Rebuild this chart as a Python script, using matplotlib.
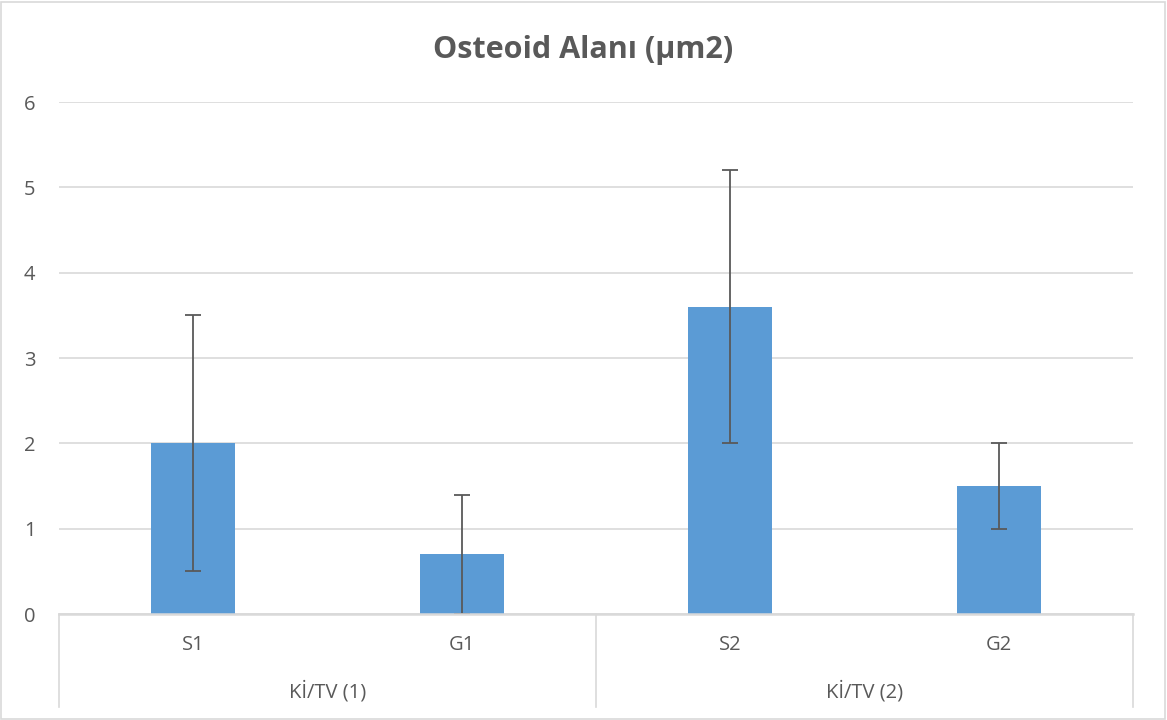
import matplotlib
matplotlib.use("Agg")
import matplotlib.pyplot as plt
from matplotlib.patches import Rectangle

categories = ["S1", "G1", "S2", "G2"]
groups = ["Kİ/TV (1)", "Kİ/TV (2)"]
group_sizes = [2, 2]
values = [2.0, 0.7, 3.6, 1.5]
errors = [1.5, 0.7, 1.6, 0.5]
title = "Osteoid Alanı (µm2)"

plt.rcParams['font.family'] = ['Open Sans', 'DejaVu Sans']
text_color = "#595959"
grid_color = "#D9D9D9"

fig = plt.figure(figsize=(11.67, 7.2), dpi=100)
ax = fig.add_axes([59/1167, 106/720, (1133-59)/1167, (614-102)/720])

x = list(range(len(categories)))
ax.bar(x, values, width=0.313, color="#5B9BD5", zorder=2)
ax.errorbar(x, values, yerr=errors, fmt="none", ecolor="#595959",
            elinewidth=1.3, capsize=6, capthick=1.3, zorder=3)

ax.set_xlim(-0.5, len(categories) - 0.5)
ax.set_ylim(0, 6)
ax.set_yticks(range(0, 7))
ax.yaxis.grid(True, color=grid_color, linewidth=1.2, zorder=0)
ax.set_axisbelow(True)
for s in ["left", "right", "top"]:
    ax.spines[s].set_visible(False)
ax.spines["bottom"].set_color(grid_color)
ax.spines["bottom"].set_linewidth(1.8)
ax.spines["bottom"].set_zorder(4)
ax.tick_params(axis="y", length=0, pad=21, labelsize=14.5, labelcolor=text_color)
ax.tick_params(axis="x", length=0, pad=15, labelsize=14.5, labelcolor=text_color)
ax.set_xticks(x)
ax.set_xticklabels(categories)
for lab in ax.get_yticklabels():
    lab.set_horizontalalignment("center")

# multi-level category axis
trans = ax.get_xaxis_transform()
bottom = -(707 - 614) / 512
start = -0.5
bounds = [start]
for g, n in zip(groups, group_sizes):
    center = start + n / 2
    ax.text(center, -(692 - 614) / 512, g, transform=trans, ha="center", va="center",
            fontsize=14.5, color=text_color)
    start += n
    bounds.append(start)
for b in bounds:
    ax.plot([b, b], [0, bottom], transform=trans, color=grid_color, linewidth=1.2,
            clip_on=False)

fig.suptitle(title, x=0.5, y=1 - 50/720, va="center", fontsize=22,
             fontweight="bold", color=text_color)

fig.patches.append(Rectangle((1/1167, 1/720), 1164/1167, 717/720, transform=fig.transFigure,
                             fill=False, edgecolor=grid_color, linewidth=1.2))

fig.savefig("out.png", dpi=100)
